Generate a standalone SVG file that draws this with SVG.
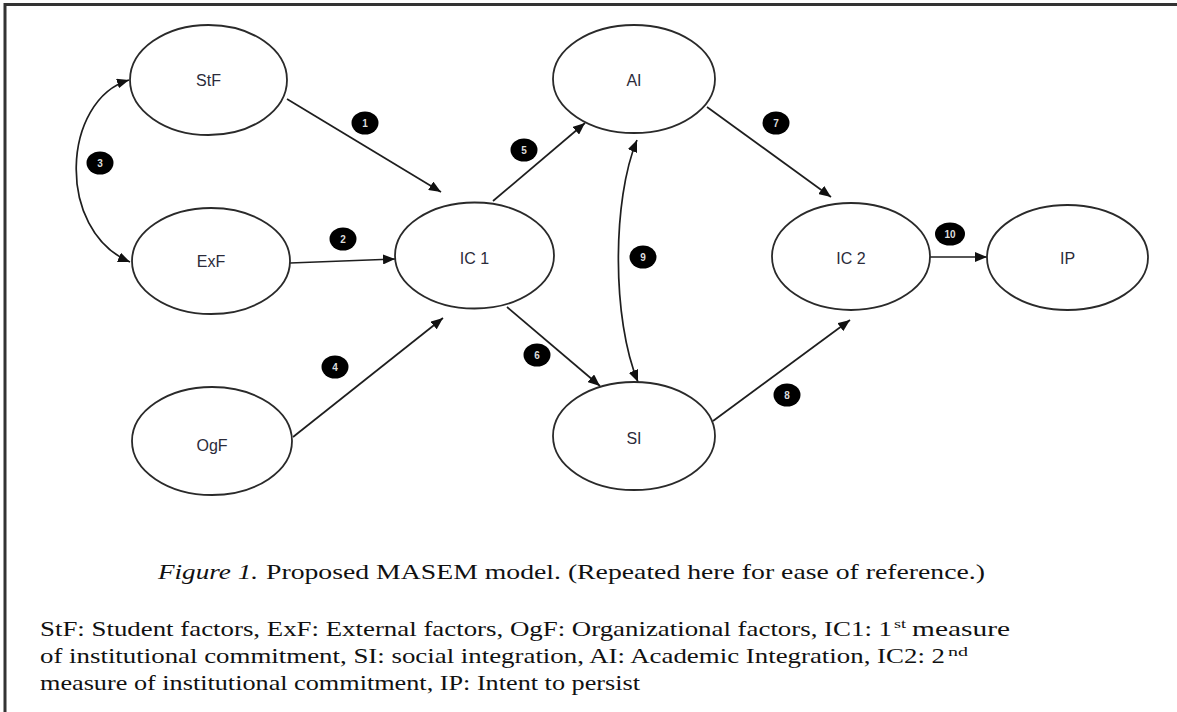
<svg xmlns="http://www.w3.org/2000/svg" width="1177" height="712" viewBox="0 0 1177 712">
<style>
.node ellipse{fill:#fff;stroke:#2a2a2a;stroke-width:1.8}
.node text{font-family:"Liberation Sans",Arial,sans-serif;font-size:16px;fill:#2b2b3a;text-anchor:middle}
.conn path,.conn line{fill:none;stroke:#1e1e1e;stroke-width:1.7}
.badge ellipse{fill:#000}
.badge text{font-family:"Liberation Sans",Arial,sans-serif;font-size:10px;font-weight:bold;fill:#ddd;text-anchor:middle}
.cap{font-family:"Liberation Serif","Times New Roman",serif;font-size:22px;fill:#111}
.sup{font-family:"Liberation Serif","Times New Roman",serif;font-size:13px;fill:#111}
</style>
<defs>
<marker id="ah" markerUnits="userSpaceOnUse" markerWidth="13" markerHeight="10" refX="12" refY="5" orient="auto-start-reverse">
<path d="M0,0 L12,5 L0,10 z" fill="#111"/>
</marker>
</defs>
<rect width="1177" height="712" fill="#fff"/>
<path d="M5,712 V4.5 H1177" fill="none" stroke="#333" stroke-width="3"/>

<g class="conn">
<line x1="287" y1="99" x2="441" y2="192" marker-end="url(#ah)"/>
<line x1="290" y1="263" x2="395" y2="259" marker-end="url(#ah)"/>
<path d="M129,80 C62,100 55,230 130,262" marker-start="url(#ah)" marker-end="url(#ah)"/>
<line x1="293" y1="437" x2="443" y2="318" marker-end="url(#ah)"/>
<line x1="493" y1="201" x2="585" y2="123" marker-end="url(#ah)"/>
<line x1="507" y1="307" x2="600" y2="386" marker-end="url(#ah)"/>
<path d="M637,140 C612,200 612,320 638,382" marker-start="url(#ah)" marker-end="url(#ah)"/>
<line x1="707" y1="107" x2="831" y2="197" marker-end="url(#ah)"/>
<line x1="713" y1="421" x2="850" y2="320" marker-end="url(#ah)"/>
<line x1="930" y1="257" x2="987" y2="257" marker-end="url(#ah)"/>
</g>

<g id="StF" class="node"><ellipse cx="208.5" cy="80" rx="78.5" ry="55"/><text x="208.5" y="86">StF</text></g>
<g id="ExF" class="node"><ellipse cx="211" cy="261" rx="79" ry="53"/><text x="211" y="267">ExF</text></g>
<g id="OgF" class="node"><ellipse cx="212" cy="441" rx="80" ry="54"/><text x="212" y="451">OgF</text></g>
<g id="IC1" class="node"><ellipse cx="474.5" cy="255.5" rx="79.5" ry="53"/><text x="474.5" y="264">IC 1</text></g>
<g id="AI" class="node"><ellipse cx="634" cy="79" rx="81" ry="54"/><text x="634" y="86">AI</text></g>
<g id="SI" class="node"><ellipse cx="634" cy="436" rx="81" ry="54"/><text x="634" y="444">SI</text></g>
<g id="IC2" class="node"><ellipse cx="851" cy="256.5" rx="79" ry="53.5"/><text x="851" y="264">IC 2</text></g>
<g id="IP" class="node"><ellipse cx="1067.5" cy="257.5" rx="80.5" ry="52.5"/><text x="1067.5" y="264">IP</text></g>

<g id="badges" class="badge">
<g><ellipse cx="365" cy="123" rx="13.5" ry="11.5"/><text x="365" y="127">1</text></g>
<g><ellipse cx="343" cy="239" rx="13.5" ry="11.5"/><text x="343" y="243">2</text></g>
<g><ellipse cx="100" cy="163" rx="13.5" ry="11.5"/><text x="100" y="167">3</text></g>
<g><ellipse cx="335" cy="367" rx="13.5" ry="11.5"/><text x="335" y="371">4</text></g>
<g><ellipse cx="524" cy="150" rx="13.5" ry="11.5"/><text x="524" y="154">5</text></g>
<g><ellipse cx="537" cy="355" rx="13.5" ry="11.5"/><text x="537" y="359">6</text></g>
<g><ellipse cx="776" cy="123" rx="13.5" ry="11.5"/><text x="776" y="127">7</text></g>
<g><ellipse cx="787" cy="395" rx="13.5" ry="11.5"/><text x="787" y="399">8</text></g>
<g><ellipse cx="643" cy="257" rx="13.5" ry="11.5"/><text x="643" y="261">9</text></g>
<g><ellipse cx="950" cy="234" rx="15" ry="11.5"/><text x="950" y="238">10</text></g>
</g>

<g id="caption">
<text class="cap" x="158" y="579" font-style="italic" textLength="100" lengthAdjust="spacingAndGlyphs">Figure 1.</text>
<text class="cap" x="266" y="579" textLength="719" lengthAdjust="spacingAndGlyphs">Proposed MASEM model. (Repeated here for ease of reference.)</text>
</g>
<g id="legend">
<text class="cap" x="40" y="636" textLength="852" lengthAdjust="spacingAndGlyphs">StF: Student factors, ExF: External factors, OgF: Organizational factors, IC1: 1</text>
<text class="sup" x="894" y="628" textLength="12" lengthAdjust="spacingAndGlyphs">st</text>
<text class="cap" x="912" y="636" textLength="98" lengthAdjust="spacingAndGlyphs">measure</text>
<text class="cap" x="40" y="663" textLength="905" lengthAdjust="spacingAndGlyphs">of institutional commitment, SI: social integration, AI: Academic Integration, IC2: 2</text>
<text class="sup" x="948" y="656" textLength="20" lengthAdjust="spacingAndGlyphs">nd</text>
<text class="cap" x="40" y="690" textLength="600" lengthAdjust="spacingAndGlyphs">measure of institutional commitment, IP: Intent to persist</text>
</g>
</svg>
